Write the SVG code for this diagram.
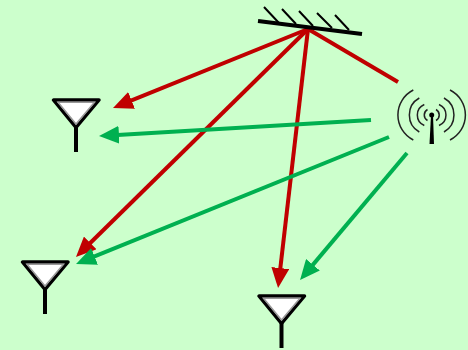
<svg xmlns="http://www.w3.org/2000/svg" width="468" height="350" viewBox="0 0 468 350">
<style>
.ant{fill:#fff;stroke:#000;stroke-width:3.500;stroke-linejoin:round}
.in{fill:none;stroke:#999;stroke-width:1.5}
.st{fill:none;stroke:#000;stroke-width:4}
.r{fill:none;stroke:#c00000;stroke-width:4}
.g{fill:none;stroke:#00b050;stroke-width:4}
.h{fill:none;stroke:#000;stroke-width:2}
.a{fill:none;stroke:#222;stroke-width:1.500}
</style>
<defs>
<marker id="mr" viewBox="0 0 10 9" refX="5" refY="4.500" markerWidth="5" markerHeight="4.500" orient="auto"><path d="M0 0L10 4.500L0 9Z" fill="#c00000"/></marker>
<marker id="mg" viewBox="0 0 10 9" refX="5" refY="4.500" markerWidth="5" markerHeight="4.500" orient="auto"><path d="M0 0L10 4.500L0 9Z" fill="#00b050"/></marker>
<g id="y"><path class="ant" d="M-22.500 0H23L0 27.500Z"/><path class="in" d="M-18 2.200H18.500L0 24Z"/><path class="st" d="M0 27V52"/></g>
</defs>
<rect width="468" height="350" fill="#ccffcc"/>
<g id="connectors">
<path class="r" d="M308 29L122.300 104.200" marker-end="url(#mr)"/>
<path class="r" d="M308 29L83.100 250" marker-end="url(#mr)"/>
<path class="r" d="M308 29L279.200 278" marker-end="url(#mr)"/>
<path class="r" d="M308 29L398 82"/>
<path class="g" d="M371 120L109 135.400" marker-end="url(#mg)"/>
<path class="g" d="M389 137L85.300 260.200" marker-end="url(#mg)"/>
<path class="g" d="M407 153L306.500 272.400" marker-end="url(#mg)"/>
</g>
<g id="mirror">
<path d="M258 21L362 34" fill="none" stroke="#000" stroke-width="4"/>
<path class="h" d="M264 7L279 23M282 9L296 24M299 11L313 26M317 13L332 28M335 15L349 30"/>
</g>
<g id="tower">
<path d="M431 115H433L434 144H429.500Z" fill="#000"/><circle cx="431.700" cy="115" r="2.500" fill="#000"/>
<path class="a" d="M413.300 90A28 28 0 0 0 413.300 140M450 90A28 28 0 0 1 450 140M419.300 98A19.500 19.500 0 0 0 419.300 132M444 98A19.500 19.500 0 0 1 444 132M424.300 104.500A11.400 11.400 0 0 0 424.300 125.500M439 104.500A11.400 11.400 0 0 1 439 125.500M427.500 109.500A6.300 6.300 0 0 0 427.500 120.500M436 109.500A6.300 6.300 0 0 1 436 120.500"/>
</g>
<g id="antenna1"><use href="#y" x="76" y="100"/></g>
<g id="antenna2"><use href="#y" x="45" y="262"/></g>
<g id="antenna3"><use href="#y" x="281.500" y="296"/></g>
</svg>
